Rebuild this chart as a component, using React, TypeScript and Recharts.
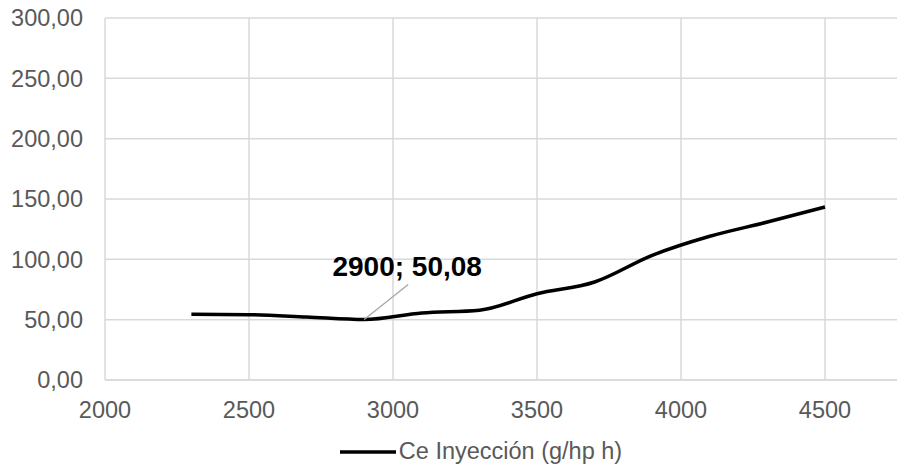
import { CartesianGrid, Legend, Line, LineChart, ReferenceLine, XAxis, YAxis } from "recharts";

const RPM = [2300, 2500, 2700, 2900, 3100, 3300, 3500, 3700, 3900, 4100, 4300, 4500];
const CE_INYECCION = [54.4, 54.1, 52.2, 50.08, 55.5, 57.8, 71.5, 81.2, 103.3, 119.1, 130.9, 143.4];
const X_TICKS = [2000, 2500, 3000, 3500, 4000, 4500];
const Y_TICKS = [0, 50, 100, 150, 200, 250, 300];
const SERIES_NAME = "Ce Inyección (g/hp h)";
const LABELED_INDEX = 3;

const TEXT_COLOR = "#595959";
const GRID_COLOR = "#d9d9d9";
const LINE_COLOR = "#000000";
const FONT = "'Liberation Sans', Arial, sans-serif";

const data = RPM.map((rpm, i) => ({ rpm, ce: CE_INYECCION[i] }));

const fmt = (v: number) => v.toFixed(2).replace(".", ",");

function PointLabel(props: any) {
  const { x, y, index } = props;
  if (index !== LABELED_INDEX) return null;
  const d = data[index];
  return (
    <g>
      <line x1={x} y1={y} x2={x + 44} y2={y - 35} stroke="#a6a6a6" strokeWidth={1.3} />
      <text
        x={x + 43}
        y={y - 44}
        textAnchor="middle"
        fontSize={28}
        fontWeight="bold"
        fill="#000"
        fontFamily={FONT}
      >
        {`${d.rpm}; ${fmt(d.ce)}`}
      </text>
    </g>
  );
}

function LegendContent() {
  return (
    <div
      style={{
        display: "flex",
        alignItems: "center",
        justifyContent: "center",
        paddingLeft: 65,
        height: 55,
        paddingTop: 8,
        boxSizing: "border-box",
      }}
    >
      <svg width={56} height={10}>
        <line x1={0} y1={5} x2={56} y2={5} stroke={LINE_COLOR} strokeWidth={3.5} />
      </svg>
      <span style={{ color: TEXT_COLOR, fontSize: 23.5, marginLeft: 3, fontFamily: FONT }}>
        {SERIES_NAME}
      </span>
    </div>
  );
}

export default function App() {
  return (
    <div style={{ position: "absolute", left: 0, top: 0, width: 900, height: 475, fontFamily: FONT, background: "#fff" }}>
      <LineChart width={900} height={475} data={data} margin={{ top: 18, right: 3, left: 0, bottom: 0 }}>
        <CartesianGrid stroke={GRID_COLOR} strokeWidth={1.5} vertical={false} />
        {X_TICKS.map((t) => (
          <ReferenceLine key={t} x={t} stroke={GRID_COLOR} strokeWidth={1.5} />
        ))}
        <XAxis
          dataKey="rpm"
          type="number"
          domain={[2000, 4750]}
          ticks={X_TICKS}
          tickLine={false}
          tickSize={0}
          tickMargin={21}
          height={40}
          stroke={GRID_COLOR}
          strokeWidth={1.5}
          tick={{ fontSize: 23.5, fill: TEXT_COLOR, fontFamily: FONT }}
          allowDataOverflow
        />
        <YAxis
          type="number"
          domain={[0, 300]}
          ticks={Y_TICKS}
          tickFormatter={fmt}
          axisLine={false}
          tickLine={false}
          tickSize={0}
          tickMargin={22}
          width={105}
          tick={{ fontSize: 23.5, fill: TEXT_COLOR, fontFamily: FONT }}
        />
        <Legend height={55} content={<LegendContent />} />
        <Line
          type="monotone"
          dataKey="ce"
          name={SERIES_NAME}
          stroke={LINE_COLOR}
          strokeWidth={3.5}
          dot={false}
          activeDot={false}
          label={<PointLabel />}
          isAnimationActive={false}
        />
      </LineChart>
    </div>
  );
}
